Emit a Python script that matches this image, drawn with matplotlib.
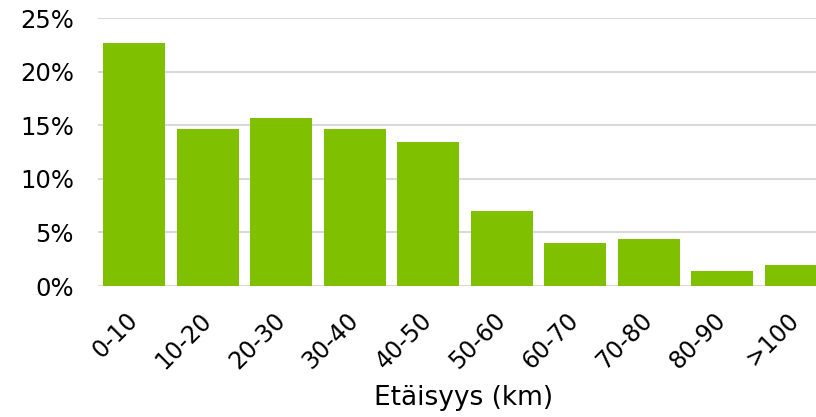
import matplotlib.pyplot as plt
from matplotlib.ticker import PercentFormatter

categories = ['0-10', '10-20', '20-30', '30-40', '40-50',
              '50-60', '60-70', '70-80', '80-90', '>100']
shares = [22.7, 14.6, 15.7, 14.6, 13.4, 7.0, 4.0, 4.4, 1.4, 2.0]

green = '#7fc000'
grid_grey = '#d9d9d9'

fig = plt.figure(figsize=(8.16, 4.17), dpi=100)
# right edge runs past the canvas so the last bar is clipped
ax = fig.add_axes([97.5 / 816, 131 / 417, 735 / 816, 268 / 417])

x = range(len(categories))
ax.bar(x, shares, width=0.84, color=green, zorder=3)

ax.set_xlim(-0.5, len(categories) - 0.5)
ax.set_ylim(0, 25)
ax.set_yticks(range(0, 26, 5))
ax.yaxis.set_major_formatter(PercentFormatter(decimals=0))
ax.grid(axis='y', color=grid_grey, linewidth=1.5, zorder=0)
ax.set_axisbelow(True)

for side in ['top', 'right', 'left', 'bottom']:
    ax.spines[side].set_visible(False)

ax.set_xticks(list(x))
ax.set_xticklabels(categories, rotation=45, ha='right', va='center',
                   rotation_mode='anchor')
ax.tick_params(axis='both', length=0, colors='#000000')
ax.tick_params(axis='y', labelsize=17.5, pad=17)
ax.tick_params(axis='x', labelsize=17, pad=22)

fig.text(464 / 816, 1 - 398 / 417, 'Etäisyys (km)', fontsize=19,
         ha='center', va='center')

fig.savefig('out.png', dpi=100)
